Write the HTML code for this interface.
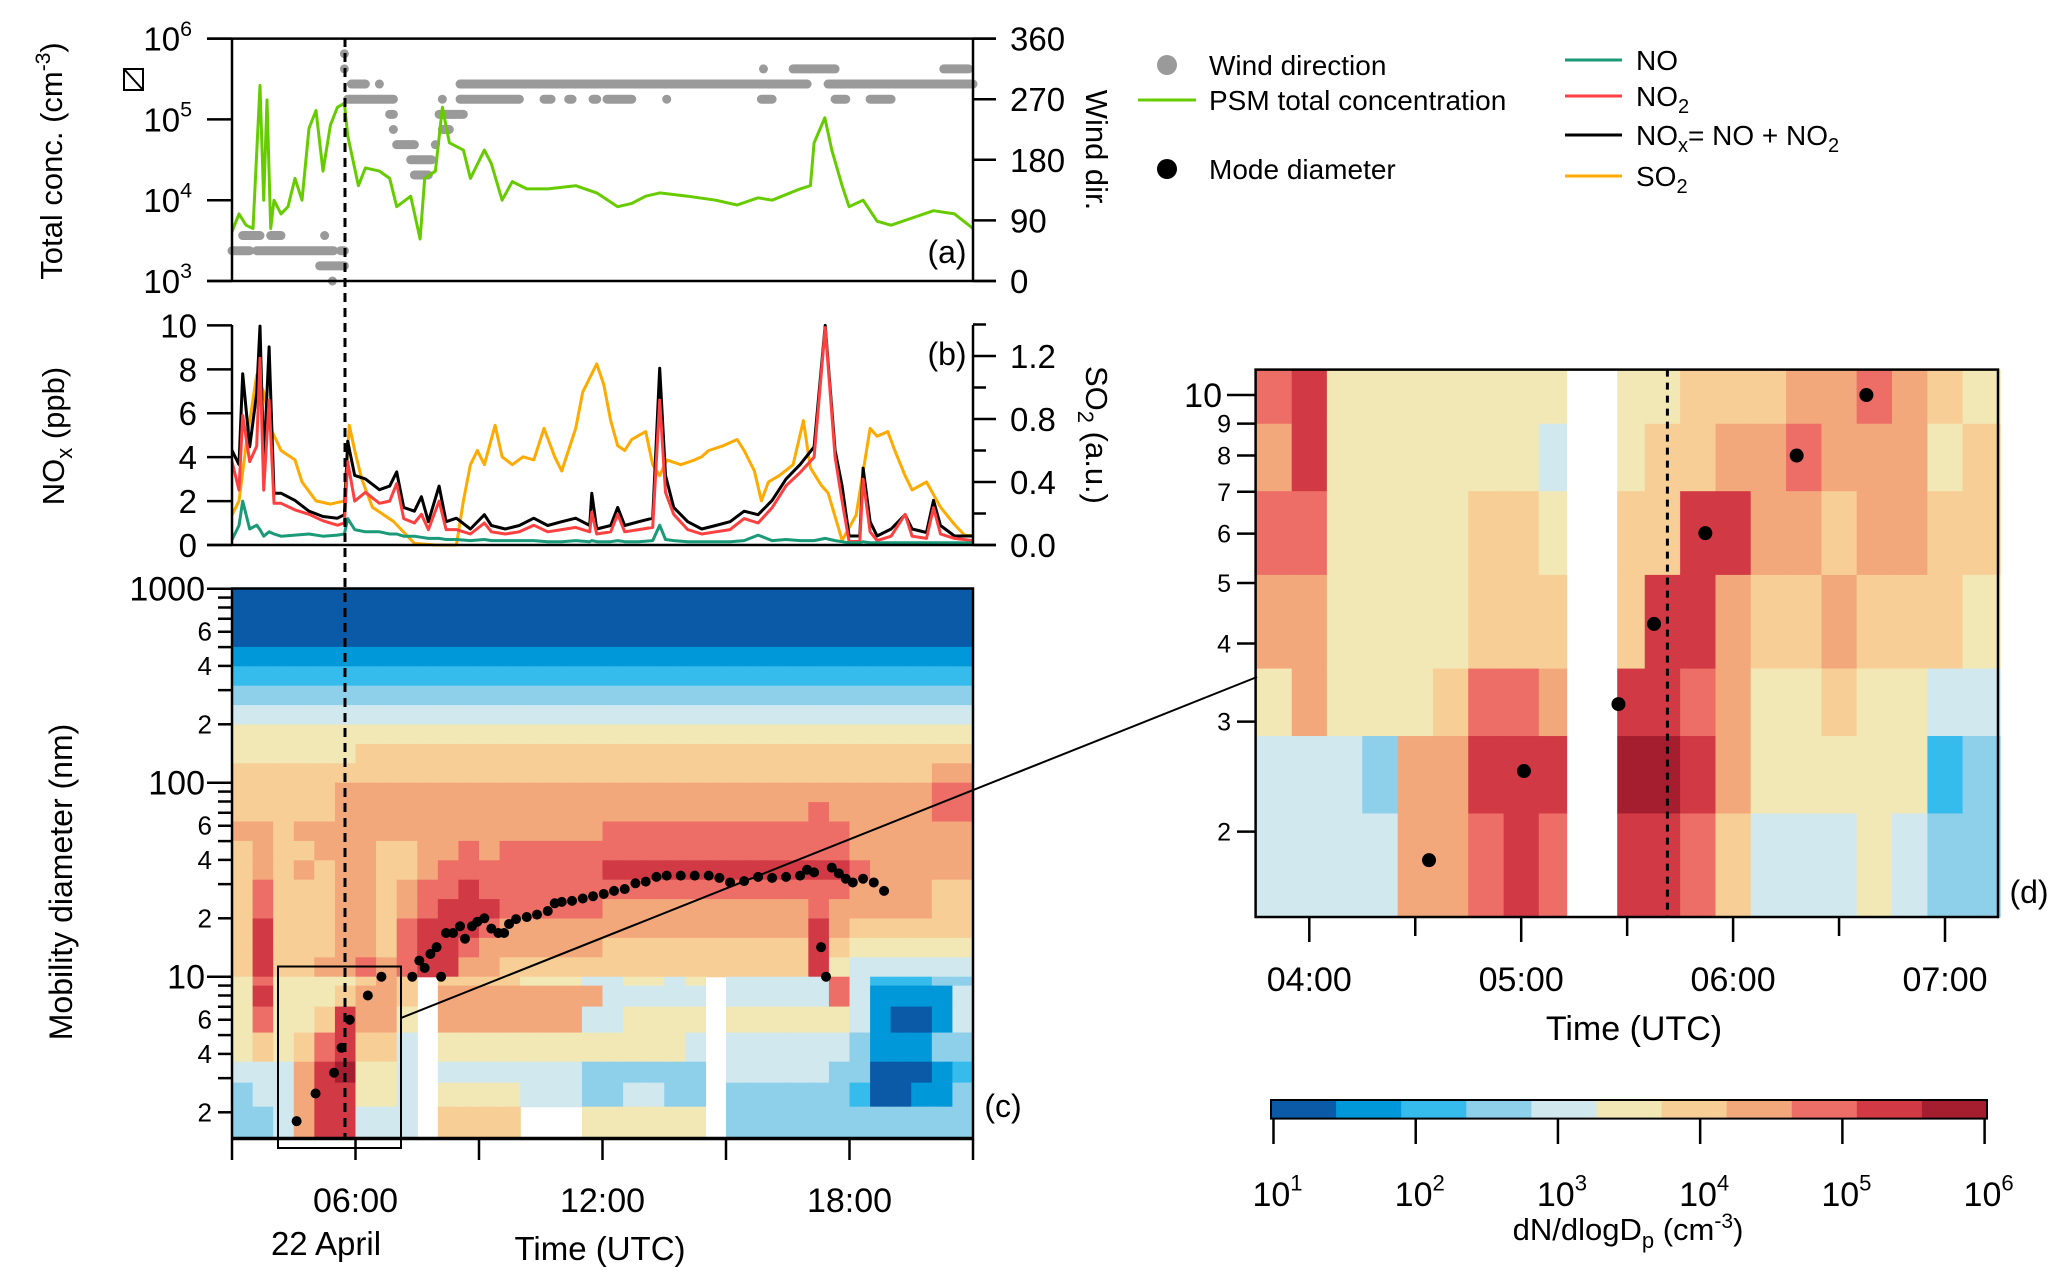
<!DOCTYPE html>
<html><head><meta charset="utf-8">
<style>
html,body{margin:0;padding:0;background:#fff;}
svg{display:block;font-family:"Liberation Sans",Arial,sans-serif;}
</style></head>
<body>
<svg id="fig" xmlns="http://www.w3.org/2000/svg" width="2067" height="1282" viewBox="0 0 2067 1282">
<rect x="0" y="0" width="2067" height="1282" fill="#fff"/>
<g id="layer-heat"></g>
<g id="layer-lines"></g>
<g id="layer-axes"></g>
</svg>
<script>
// ---------- data ----------
const psmTime=[3.00,3.17,3.34,3.51,3.68,3.77,3.85,3.94,4.02,4.19,4.36,4.53,4.70,4.87,5.04,5.21,5.39,5.56,5.73,5.81,6.07,6.24,6.58,6.83,7.00,7.34,7.57,7.68,7.94,8.11,8.28,8.62,8.79,9.13,9.30,9.56,9.81,10.16,10.67,11.35,11.86,12.37,12.71,13.05,13.39,14.07,14.75,15.27,15.78,16.12,16.80,17.05,17.14,17.40,17.57,17.82,17.99,18.33,18.67,19.01,19.52,20.04,20.55,21.0];
const psmLogConc=[3.61,3.83,3.69,3.65,5.42,4.00,5.24,3.65,4.00,3.83,3.92,4.27,4.00,4.89,5.11,4.36,4.93,5.15,5.20,4.80,4.18,4.40,4.36,4.27,3.92,4.05,3.52,4.27,4.36,5.15,4.71,4.62,4.27,4.62,4.45,4.00,4.23,4.14,4.14,4.18,4.09,3.92,3.96,4.05,4.09,4.05,4.00,3.94,4.03,4.00,4.14,4.18,4.71,5.02,4.62,4.18,3.92,4.00,3.74,3.69,3.78,3.87,3.83,3.65];

const windStart=[3.00,3.60,5.64,3.26,3.94,5.25,5.13,5.44,5.73,5.73,5.81,8.11,8.54,10.58,11.18,11.77,12.11,13.56,15.86,17.65,18.50,5.90,6.58,8.54,17.48,15.91,16.63,20.29,6.83,8.03,6.92,8.11,7.00,7.94,7.34,7.43];
const windEnd  =[3.43,5.47,5.73,3.68,4.19,5.25,5.73,5.44,5.73,5.73,6.92,8.11,9.98,10.75,11.26,11.86,12.71,13.56,16.12,17.91,19.01,6.24,6.58,16.97,21.00,15.91,17.65,20.89,6.92,8.62,6.92,8.28,7.43,7.94,7.85,7.77];
const windDir  =[45,45,45,67.5,67.5,67.5,22.5,0,337.5,315,270,270,270,270,270,270,270,270,270,270,270,292.5,292.5,292.5,292.5,315,315,315,247.5,247.5,225,225,202.5,202.5,180,157.5];

const noxTime=[3.00,3.17,3.26,3.43,3.60,3.68,3.77,3.90,4.02,4.19,4.53,4.87,5.21,5.56,5.73,5.81,5.98,6.24,6.58,6.83,7.00,7.17,7.43,7.60,7.77,8.03,8.20,8.45,8.79,9.13,9.30,9.64,9.98,10.33,10.67,11.01,11.35,11.69,11.74,11.86,12.20,12.37,12.54,12.88,13.22,13.39,13.53,13.73,14.07,14.41,14.75,15.10,15.44,15.78,16.12,16.46,16.80,17.14,17.41,17.65,17.82,17.99,18.25,18.33,18.50,18.67,19.01,19.35,19.52,19.87,20.04,20.21,20.55,21.00];
const noxPpb=[4.31,3.66,7.80,4.47,6.91,9.97,3.66,9.02,2.36,2.36,2.03,1.54,1.30,1.22,1.38,4.72,3.17,3.01,2.52,2.68,3.33,1.71,1.54,2.20,1.06,2.68,1.06,1.22,0.73,1.38,0.89,0.73,0.89,1.22,0.89,1.06,1.22,0.89,2.36,0.73,0.89,1.71,0.89,1.06,1.22,8.05,3.17,1.71,1.06,0.73,0.89,1.06,1.54,1.38,2.03,3.01,3.66,4.47,10.0,4.31,2.68,0.41,0.41,3.50,1.06,0.41,0.73,1.38,0.73,0.57,2.03,0.89,0.41,0.41];
const no2Ppb=[3.8,2.5,5.9,3.8,4.5,8.5,2.5,6.6,1.9,1.9,1.6,1.4,1.1,0.9,1.0,3.8,2.0,2.4,1.9,2.0,2.8,1.2,1.0,1.4,0.7,2.0,0.7,0.7,0.5,1.0,0.6,0.5,0.6,0.9,0.6,0.7,0.8,0.6,1.5,0.5,0.6,1.4,0.6,0.7,0.8,6.6,2.4,1.4,0.7,0.5,0.6,0.7,1.2,1.0,1.7,2.7,3.3,4.0,9.9,4.0,2.0,0.16,0.16,3.0,0.6,0.2,0.4,1.4,0.4,0.3,1.7,0.5,0.3,0.2];
const noPpb=[0.24,0.89,2.0,0.73,0.9,0.7,0.4,0.6,0.5,0.4,0.45,0.5,0.4,0.45,0.5,1.2,0.7,0.6,0.6,0.5,0.5,0.4,0.4,0.35,0.3,0.3,0.25,0.25,0.2,0.25,0.2,0.2,0.2,0.2,0.15,0.15,0.2,0.15,0.2,0.15,0.15,0.2,0.15,0.15,0.2,0.9,0.25,0.2,0.15,0.15,0.15,0.15,0.2,0.45,0.2,0.25,0.2,0.2,0.3,0.2,0.15,0.1,0.1,0.15,0.1,0.1,0.1,0.1,0.1,0.1,0.1,0.1,0.1,0.1];

const so2Time=[3.00,3.17,3.34,3.60,3.77,3.94,4.19,4.53,4.70,5.04,5.39,5.73,5.85,5.98,6.15,6.41,6.92,7.43,7.94,8.45,8.62,8.79,8.96,9.13,9.39,9.56,9.81,10.07,10.33,10.58,10.84,11.01,11.35,11.52,11.69,11.86,12.03,12.20,12.37,12.54,12.71,13.05,13.22,13.39,13.56,13.90,14.24,14.41,14.58,14.93,15.27,15.44,15.69,15.86,16.03,16.29,16.63,16.88,17.05,17.31,17.48,17.82,18.16,18.50,18.67,18.93,19.10,19.35,19.52,19.87,20.21,20.55,20.80,21.00];
const so2AU=[0.19,0.28,0.63,1.08,0.97,0.74,0.60,0.54,0.40,0.28,0.26,0.28,0.76,0.60,0.42,0.24,0.15,0.01,0,0,0.28,0.51,0.60,0.51,0.76,0.56,0.51,0.56,0.54,0.74,0.56,0.47,0.74,0.97,1.06,1.15,1.02,0.79,0.63,0.60,0.67,0.72,0.51,0.44,0.54,0.51,0.54,0.56,0.60,0.63,0.67,0.60,0.47,0.28,0.40,0.44,0.51,0.79,0.49,0.38,0.33,0.03,0.19,0.74,0.69,0.72,0.60,0.44,0.35,0.40,0.24,0.13,0.06,0.06];

const modeTime=[4.57,5.03,5.48,5.66,5.86,6.30,6.63,7.38,7.55,7.68,7.82,7.97,8.08,8.20,8.37,8.54,8.66,8.83,8.96,9.13,9.30,9.47,9.61,9.73,9.90,10.16,10.41,10.67,10.84,11.01,11.26,11.52,11.77,12.03,12.28,12.54,12.80,13.05,13.31,13.56,13.90,14.24,14.58,14.84,15.10,15.44,15.78,16.12,16.46,16.80,16.97,17.14,17.31,17.43,17.57,17.74,17.91,18.08,18.33,18.59,18.84];
const modeDiam=[1.80,2.5,3.2,4.3,6.0,8.0,10.0,10.0,12.1,11.1,13.1,14.2,10.0,16.8,16.8,18.2,15.7,18.2,19.2,20.0,17.7,16.8,16.8,18.7,19.8,20.3,20.9,21.8,23.9,24.3,24.6,25.3,26.0,26.7,27.7,28.3,30.3,30.9,32.7,33.2,33.2,33.2,33.2,32.3,30.6,31.1,32.7,32.3,32.7,33.2,35.6,34.5,14.2,10.0,36.5,34.1,32.0,30.6,32.0,30.6,27.7];
const zoomModeTime=[4.565,5.013,5.459,5.627,5.869,6.30,6.629];
const zoomModeDiam=[1.80,2.50,3.20,4.30,6.01,8.0,10.0];

// heatmap (c): column start times, row log10(diameter) edges, colour level per cell (0-a, '-' = no data)
const heatColTimes=[3,3.5,4,4.5,5,5.5,6,6.5,7,7.5,8,8.5,9,9.5,10,10.5,11,11.5,12,12.5,13,13.5,14,14.5,15,15.5,16,16.5,17,17.5,18,18.5,19,19.5,20,20.5,21];
const heatRowLogD=[3.0,2.9,2.8,2.7,2.6,2.5,2.4,2.3,2.2,2.1,2.0,1.9,1.8,1.7,1.6,1.5,1.4,1.3,1.2,1.1,1.0,0.954,0.846,0.712,0.562,0.454,0.33,0.169];
const heatLevels=[
"000000000000000000000000000000000000",
"000000000000000000000000000000000000",
"000000000000000000000000000000000000",
"111111111111111111111111111111111111",
"222222222222222222222222222222222222",
"333333333333333333333333333333333333",
"444444444444444444444444444444444444",
"555555555555555555555555555555555555",
"555555666666666666666666666666666666",
"666666666666666666666666666666666677",
"666667777777777777777777777777777788",
"666667777777777777777777777787777788",
"776777777777777777888888888888777777",
"676677766778788888888888888888777777",
"676767766788888888999999999999877777",
"686667767889888888888888888888777766",
"686667767899988888777777777787777766",
"696667768999877777777777777797666666",
"696667768998777777666666666696555555",
"696677878997766666666666666695444444",
"585555676-6666555445545-444448422233".replace(/ /g,''),
"595556776-7777777744444-444448411114",
"585569775-7777777445555-555555410014",
"565689664-5555555555554-444444311133",
"44479a554-4444444333333-444443300012",
"344799554-5555444334433-333333200113",
"334799444-6666---555555-333333333333"
];
const heatLevelsFix=heatLevels.map(s=>s.slice(0,36));

// heatmap (d)
const zoomColTimes=[3.746,3.917,4.083,4.25,4.417,4.583,4.75,4.917,5.083,5.214,5.453,5.583,5.75,5.917,6.083,6.25,6.417,6.583,6.75,6.917,7.083,7.26];
const zoomRowLogD=[1.0407,0.954,0.846,0.712,0.562,0.454,0.33,0.1643];
const zoomLevels=[
"895555555-55666778765",
"795555554-56677877756",
"885555665-66997767766",
"775555666-69976676665",
"575556887-99875565544",
"444377999-aa975555523",
"444477898-99864445433"
];
const levelColors=["#0a5aa8","#0098d8","#36bcec","#8ecfea","#d0e8ee","#f2e8b6","#f7cf96","#f3a87c","#ec6e66","#d13a45","#a51e30"];

// ---------- scales ----------
const xA=t=>232+(t-3)*741/18;
const yConc=l=>281-(l-3)*80.8;
const yWind=d=>281-d/360*242.4;
const yNOx=v=>545-v*21.96;
const ySO2=v=>545-v*157.5;
const yC=l=>976.7-(l-1)*194;
const xD=t=>1309.3+(t-4)*211.9;
const yD=l=>395-(l-1)*624.6;

const NS="http://www.w3.org/2000/svg";
function mk(parent,tag,attrs,text){const e=document.createElementNS(NS,tag);for(const k in attrs)e.setAttribute(k,attrs[k]);if(text!==undefined)e.textContent=text;parent.appendChild(e);return e;}
const H=document.getElementById('layer-heat'),L=document.getElementById('layer-lines'),A=document.getElementById('layer-axes');
const lvl=c=>parseInt(c,16);

// heatmap c
heatLevelsFix.forEach((row,r)=>{
  for(let j=0;j<row.length;j++){
    const c=row[j]; if(c==='-')continue;
    const x0=xA(heatColTimes[j]),x1=xA(heatColTimes[j+1]);
    const y0=yC(heatRowLogD[r]),y1=yC(heatRowLogD[r+1]);
    const el=mk(H,'rect',{x:x0,y:y0,width:x1-x0+0.6,height:y1-y0+0.6,fill:levelColors[lvl(c)]});
    
    
  }
});
// heatmap d
zoomLevels.forEach((row,r)=>{
  for(let j=0;j<row.length;j++){
    const c=row[j]; if(c==='-')continue;
    const x0=xD(zoomColTimes[j]),x1=xD(zoomColTimes[j+1]);
    const y0=yD(zoomRowLogD[r]),y1=yD(zoomRowLogD[r+1]);
    const el=mk(H,'rect',{x:x0,y:y0,width:x1-x0+0.6,height:y1-y0+0.6,fill:levelColors[lvl(c)]});
    
    
  }
});

// wind direction
windDir.forEach((d,i)=>{
  const el=mk(L,'line',{x1:xA(windStart[i]),x2:xA(windEnd[i]),y1:yWind(d),y2:yWind(d),stroke:'#9a9a9a','stroke-width':9,'stroke-linecap':'round'});
  
  
});
function poly(xs,ys,fx,fy,color,name,w){
  const pts=xs.map((t,i)=>fx(t).toFixed(1)+','+fy(ys[i]).toFixed(1)).join(' ');
  const el=mk(L,'polyline',{points:pts,fill:'none',stroke:color,'stroke-width':w||3,'stroke-linejoin':'round'});
  
  
}
poly(psmTime,psmLogConc,xA,yConc,'#66cc00','psm-total-concentration-line');
poly(so2Time,so2AU,xA,ySO2,'#ffaa00','so2-line');
poly(noxTime,noxPpb,xA,yNOx,'#000','nox-line');
poly(noxTime,no2Ppb,xA,yNOx,'#ff4040','no2-line');
poly(noxTime,noPpb,xA,yNOx,'#1a9a78','no-line');

modeTime.forEach((t,i)=>{
  const el=mk(L,'circle',{cx:xA(t),cy:yC(Math.log10(modeDiam[i])),r:5,fill:'#000'});
  
  
});
zoomModeTime.forEach((t,i)=>{
  const el=mk(L,'circle',{cx:xD(t),cy:yD(Math.log10(zoomModeDiam[i])),r:7,fill:'#000'});
  
  
});

// ---------- axes helpers ----------
function ln(x1,y1,x2,y2,name,w,extra){const e=mk(A,'line',Object.assign({x1,y1,x2,y2,stroke:'#000','stroke-width':w||2.5},extra||{}));return e;}
function tx(x,y,s,size,anchor,name,extra){const e=mk(A,'text',Object.assign({x,y,'font-size':size,'text-anchor':anchor||'start',fill:'#000'},extra||{}),s);return e;}
function pow(x,y,exp,size,anchor,name){const e=mk(A,'text',{x,y,'font-size':size,'text-anchor':anchor,fill:'#000'});const a=mk(e,'tspan',{},'10');const b=mk(e,'tspan',{dy:-size*0.45,'font-size':size*0.65},String(exp));return e;}

// panel a
ln(207,38.6,996,38.6,'panel-a-top-axis');
ln(207,281,996,281,'panel-a-bottom-axis');
ln(232,38.6,232,281,'panel-a-left-axis');
ln(973,38.6,973,281,'panel-a-right-axis');
const concTicks=[3,4,5,6];
concTicks.forEach(e=>{ln(207,yConc(e),232,yConc(e),'conc-tick');pow(192,yConc(e)+12,e,33,'end','conc-tick-label');});
const windTicks=[0,90,180,270,360];
windTicks.forEach(d=>{ln(973,yWind(d),996,yWind(d),'wind-tick');tx(1010,yWind(d)+12,String(d),33,'start','wind-tick-label');});
tx(947,263,'(a)',32,'middle','panel-a-label');
const icon=mk(A,'g',{});
mk(icon,'rect',{x:124,y:69,width:19,height:21,fill:'none',stroke:'#000','stroke-width':2});
mk(icon,'line',{x1:124,y1:69,x2:143,y2:90,stroke:'#000','stroke-width':2});
{const t=tx(62,161,'',31,'middle','total-conc-axis-title',{transform:'rotate(-90 62 161)'});mk(t,'tspan',{},'Total conc. (cm');mk(t,'tspan',{dy:-12,'font-size':21},'-3');mk(t,'tspan',{dy:12},')');}
tx(1086,150,'Wind dir.',31,'middle','wind-dir-axis-title',{transform:'rotate(90 1086 150)'});

// panel b
ln(232,325,232,545,'panel-b-left-axis');
ln(973,325,973,545,'panel-b-right-axis');
ln(207,545,996,545,'panel-b-bottom-axis');
const noxTicks=[0,2,4,6,8,10];
noxTicks.forEach(v=>{ln(207,yNOx(v),232,yNOx(v),'nox-tick');tx(197,yNOx(v)+12,String(v),33,'end','nox-tick-label');});
const so2Ticks=[0,0.2,0.4,0.6,0.8,1.0,1.2,1.4];
so2Ticks.forEach((v,i)=>{ln(973,ySO2(v),i%2===0?996:986,ySO2(v),'so2-tick');});
const so2Labels=['0.0','0.4','0.8','1.2'];
so2Labels.forEach(s=>tx(1010,ySO2(parseFloat(s))+12,s,33,'start','so2-tick-label'));
tx(947,365,'(b)',32,'middle','panel-b-label');
{const t=tx(64,436,'',31,'middle','nox-axis-title',{transform:'rotate(-90 64 436)'});mk(t,'tspan',{},'NO');mk(t,'tspan',{dy:8,'font-size':22},'x');mk(t,'tspan',{dy:-8},' (ppb)');}
{const t=tx(1086,435,'',31,'middle','so2-axis-title',{transform:'rotate(90 1086 435)'});mk(t,'tspan',{},'SO');mk(t,'tspan',{dy:8,'font-size':22},'2');mk(t,'tspan',{dy:-8},' (a.u.)');}

// panel c
mk(A,'rect',{x:232,y:588.5,width:741,height:549.5,fill:'none',stroke:'#000','stroke-width':2.5});
ln(232,1139,973,1139,'time-axis');
const timeTicks=[3,6,9,12,15,18,21];
timeTicks.forEach(t=>ln(xA(t),1139,xA(t),1160,'time-tick'));
const timeLabels=['06:00','12:00','18:00'];
const timeLabelHours=[6,12,18];
timeLabels.forEach((s,i)=>tx(xA(timeLabelHours[i]),1212,s,34,'middle','time-tick-label'));
tx(326,1255,'22  April',33,'middle','date-label');
tx(600,1260,'Time (UTC)',33,'middle','time-axis-title');
const decades=[1,2,3];
decades.forEach(d=>{ln(207,yC(d),232,yC(d),'diam-major-tick');tx(205,yC(d)+12,String(Math.pow(10,d)),34,'end','diam-tick-label');});
const minorMult=[2,3,4,5,6,7,8,9];
[0,1,2].forEach(d=>minorMult.forEach(m=>{const l=d+Math.log10(m);if(l<0.169)return;ln(218,yC(l),232,yC(l),'diam-minor-tick');if(m===2||m===4||m===6)tx(212,yC(l)+9,String(m),26,'end','diam-minor-label');}));
tx(1003,1117,'(c)',32,'middle','panel-c-label');
tx(72,882,'Mobility diameter (nm)',32,'middle','diameter-axis-title',{transform:'rotate(-90 72 882)'});
mk(A,'rect',{x:278,y:966.5,width:123,height:181.5,fill:'none',stroke:'#000','stroke-width':2});
ln(401,1018,1257,677,'zoom-connector-line',2);

// dashed line
ln(345,38,345,1138,'event-time-dashed-line',3,{'stroke-dasharray':'9 6'});

// panel d
mk(A,'rect',{x:1255.6,y:369.6,width:742.4,height:547.4,fill:'none',stroke:'#000','stroke-width':2.5});
ln(xD(5.69),369.6,xD(5.69),917,'zoom-dashed-line',3,{'stroke-dasharray':'7 6'});
const zoomTimeTicks=[4,5,6,7];
const zoomTimeLabels=['04:00','05:00','06:00','07:00'];
zoomTimeTicks.forEach((t,i)=>{ln(xD(t),917,xD(t),942,'zoom-time-tick');tx(xD(t),991,zoomTimeLabels[i],34,'middle','zoom-time-tick-label');});
[4.5,5.5,6.5].forEach(t=>ln(xD(t),917,xD(t),936,'zoom-time-minor-tick'));
tx(1634,1040,'Time (UTC)',34,'middle','zoom-time-axis-title');
const zoomDiamTicks=[2,3,4,5,6,7,8,9,10];
zoomDiamTicks.forEach(m=>{const y=yD(Math.log10(m));ln(m===10?1227:1237,y,1255.6,y,'zoom-diam-tick');tx(m===10?1222:1231,y+(m===10?12:9),String(m),m===10?34:25,'end','zoom-diam-tick-label');});
tx(2029,903,'(d)',32,'middle','panel-d-label');

// colorbar
const cbX0=1271,cbX1=1987,cbY0=1100,cbY1=1118.6;
levelColors.forEach((c,i)=>{const w=(cbX1-cbX0)/11;const el=mk(A,'rect',{x:cbX0+i*w,y:cbY0,width:w+0.5,height:cbY1-cbY0,fill:c});});
mk(A,'rect',{x:cbX0,y:cbY0,width:cbX1-cbX0,height:cbY1-cbY0,fill:'none',stroke:'#000','stroke-width':2});
const cbExp=[1,2,3,4,5,6];
cbExp.forEach((e,i)=>{const x=1273.5+i*(1984.6-1273.5)/5;ln(x,cbY1,x,1144,'colorbar-tick');pow(x+4,1206,e,34,'middle','colorbar-tick-label');});
{const t=tx(1628,1240,'',31,'middle','colorbar-title');mk(t,'tspan',{},'dN/dlogD');mk(t,'tspan',{dy:8,'font-size':22},'p');mk(t,'tspan',{dy:-8},' (cm');mk(t,'tspan',{dy:-12,'font-size':21},'-3');mk(t,'tspan',{dy:12},')');}

// legend
const lg=A;
{const e=mk(lg,'circle',{cx:1167,cy:65,r:10,fill:'#9a9a9a'});}
tx(1209,75,'Wind direction',28,'start','legend-wind-label');
ln(1138,100,1196,100,'legend-psm-line',3,{stroke:'#66cc00'});
tx(1209,110,'PSM total concentration',28,'start','legend-psm-label');
{const e=mk(lg,'circle',{cx:1167,cy:169,r:10,fill:'#000'});}
tx(1209,179,'Mode diameter',28,'start','legend-mode-label');
ln(1565,60,1622,60,'legend-no-line',3,{stroke:'#1a9a78'});
tx(1636,70,'NO',28,'start','legend-no-label');
ln(1565,96,1622,96,'legend-no2-line',3,{stroke:'#ff4040'});
{const t=tx(1636,106,'',28,'start','legend-no2-label');mk(t,'tspan',{},'NO');mk(t,'tspan',{dy:7,'font-size':20},'2');}
ln(1565,135,1622,135,'legend-nox-line',3,{stroke:'#000'});
{const t=tx(1636,145,'',28,'start','legend-nox-label');mk(t,'tspan',{},'NO');mk(t,'tspan',{dy:7,'font-size':20},'x');mk(t,'tspan',{dy:-7},'= NO + NO');mk(t,'tspan',{dy:7,'font-size':20},'2');}
ln(1565,176,1622,176,'legend-so2-line',3,{stroke:'#ffaa00'});
{const t=tx(1636,186,'',28,'start','legend-so2-label');mk(t,'tspan',{},'SO');mk(t,'tspan',{dy:7,'font-size':20},'2');}
</script>
</body></html>
